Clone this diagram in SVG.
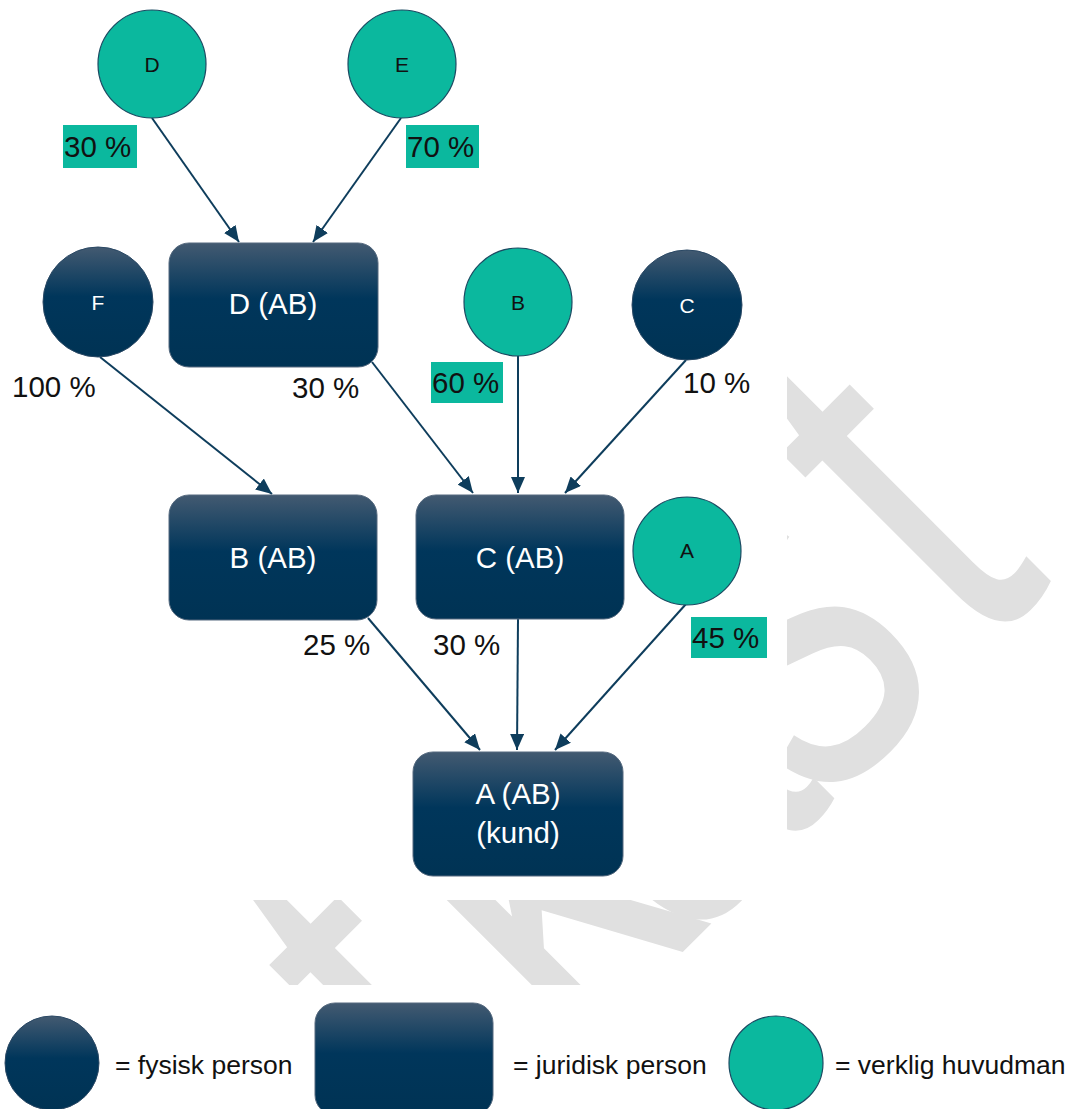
<svg xmlns="http://www.w3.org/2000/svg" width="1084" height="1109" viewBox="0 0 1084 1109">
<defs>
<linearGradient id="navy" x1="0" y1="0" x2="0" y2="1">
<stop offset="0" stop-color="#435a71"/>
<stop offset="0.45" stop-color="#00365b"/>
<stop offset="1" stop-color="#003354"/>
</linearGradient>
<marker id="arr" viewBox="0 0 16 14" refX="16" refY="7" markerWidth="16" markerHeight="14" markerUnits="userSpaceOnUse" orient="auto">
<path d="M0,0 L16,7 L0,14 z" fill="#0e3d5c"/>
</marker>
<style>
.box{fill:url(#navy);stroke:#55697e;stroke-width:1}
.pers{fill:url(#navy);stroke:#2a4864;stroke-width:1}
.vh{fill:#0bb89e;stroke:#1c4a62;stroke-width:1.2}
.bt{font-family:"Liberation Sans",Arial,sans-serif;font-size:29.5px;fill:#ffffff;text-anchor:middle}
.ct{font-family:"Liberation Sans",Arial,sans-serif;font-size:21px;text-anchor:middle}
.pl{font-family:"Liberation Sans",Arial,sans-serif;font-size:29.5px;fill:#111111}
.hl{fill:#0bb89e}
.lg{font-family:"Liberation Sans",Arial,sans-serif;font-size:26.5px;fill:#111111}
.con{stroke:#0e3d5c;stroke-width:2;fill:none;marker-end:url(#arr)}
.wm{font-family:"Liberation Sans",Arial,sans-serif;font-size:393px;fill:#e0e0e0}
</style>
</defs>
<rect width="1084" height="1109" fill="#ffffff"/>
<g id="watermark">
<text class="wm" transform="rotate(-45) scale(1,1.364)" y="847.5"><tspan x="-905">U</tspan><tspan x="-498">t</tspan><tspan x="-347">k</tspan><tspan x="-193">a</tspan><tspan x="0">s</tspan><tspan x="226">t</tspan></text>
</g>
<rect x="0" y="0" width="787" height="900" fill="#ffffff"/>
<rect x="0" y="985" width="1084" height="124" fill="#ffffff"/>
<g id="connectors">
<line class="con" x1="152" y1="118" x2="239" y2="242"/>
<line class="con" x1="401" y1="118" x2="313" y2="242"/>
<line class="con" x1="100" y1="357" x2="272" y2="494"/>
<line class="con" x1="372" y1="362" x2="473" y2="493"/>
<line class="con" x1="518" y1="356" x2="518" y2="493"/>
<line class="con" x1="686" y1="360" x2="565" y2="493"/>
<line class="con" x1="368" y1="618" x2="480" y2="750"/>
<line class="con" x1="518" y1="619" x2="517" y2="750"/>
<line class="con" x1="686" y1="604" x2="555" y2="750"/>
</g>
<g id="node-D-person"><circle class="vh" cx="152" cy="64" r="54"/><text class="ct" x="152" y="72" fill="#111111">D</text></g>
<g id="node-E-person"><circle class="vh" cx="402" cy="64" r="54"/><text class="ct" x="402" y="72" fill="#111111">E</text></g>
<g id="node-F-person"><circle class="pers" cx="98" cy="302" r="55"/><text class="ct" x="98" y="310" fill="#ffffff">F</text></g>
<g id="node-B-person"><circle class="vh" cx="518" cy="302" r="54"/><text class="ct" x="518" y="310" fill="#111111">B</text></g>
<g id="node-C-person"><circle class="pers" cx="687" cy="305" r="55"/><text class="ct" x="687" y="313" fill="#ffffff">C</text></g>
<g id="node-A-person"><circle class="vh" cx="687" cy="551" r="54"/><text class="ct" x="687" y="558" fill="#111111">A</text></g>
<g id="node-D-AB"><rect class="box" x="169" y="243" width="209" height="124" rx="20"/><text class="bt" x="273" y="314">D (AB)</text></g>
<g id="node-B-AB"><rect class="box" x="169" y="495" width="208" height="125" rx="20"/><text class="bt" x="273" y="568">B (AB)</text></g>
<g id="node-C-AB"><rect class="box" x="416" y="495" width="208" height="124" rx="20"/><text class="bt" x="520" y="568">C (AB)</text></g>
<g id="node-A-AB"><rect class="box" x="413" y="752" width="210" height="124" rx="20"/><text class="bt" x="518" y="804">A (AB)</text><text class="bt" x="518" y="843">(kund)</text></g>
<g id="labels">
<rect class="hl" x="63" y="125" width="74" height="43"/><text class="pl" x="64" y="157">30 %</text>
<rect class="hl" x="406" y="125" width="73" height="43"/><text class="pl" x="407" y="157">70 %</text>
<text class="pl" x="12" y="397">100 %</text>
<text class="pl" x="292" y="398">30 %</text>
<rect class="hl" x="431" y="362" width="72" height="41"/><text class="pl" x="432" y="393">60 %</text>
<text class="pl" x="683" y="393">10 %</text>
<text class="pl" x="303" y="655">25 %</text>
<text class="pl" x="433" y="655">30 %</text>
<rect class="hl" x="691" y="617" width="76" height="41"/><text class="pl" x="692" y="648">45 %</text>
</g>
<g id="legend">
<circle class="pers" cx="52" cy="1063" r="47"/>
<text class="lg" x="115" y="1074">= fysisk person</text>
<rect class="box" x="315" y="1003" width="178" height="112" rx="20"/>
<text class="lg" x="513" y="1074">= juridisk person</text>
<circle class="vh" cx="776" cy="1063" r="47"/>
<text class="lg" x="835" y="1074">= verklig huvudman</text>
</g>
</svg>
